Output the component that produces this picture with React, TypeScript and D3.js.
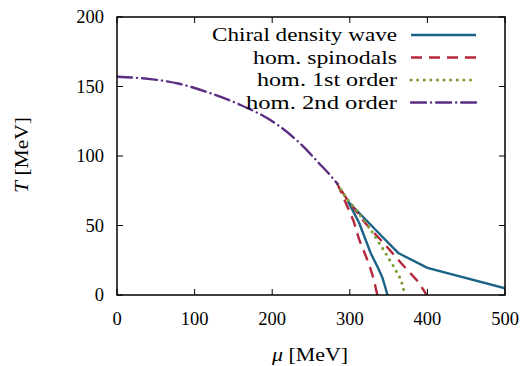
import React from "react";
import * as d3 from "d3";

// ---- data (μ [MeV], T [MeV]) ----
const secondOrderMu = [0, 40, 80, 116, 156, 208, 236, 260, 275, 284];
const secondOrderT = [157, 155.5, 152, 146, 137.5, 122, 109, 95, 86, 80];

const firstOrderMu = [284, 295, 310, 325, 344, 357, 366, 371];
const firstOrderT = [80, 70, 60, 48.6, 32, 20, 11, 0];

// spinodals: left branch from T=0 up to the critical point, then right branch down
const spinodalMu = [335.5, 331, 326, 320, 312, 305, 295, 284, 295, 318, 329, 345, 366, 389, 399];
const spinodalT = [0, 11, 20, 29, 40, 53, 66, 80, 70, 53, 46, 36.6, 23, 9, 0];

// chiral density wave: lower branch (T=0 up to Lifshitz point), then upper branch
const cdwMu = [348.5, 346, 342, 336, 327, 312, 298, 320, 340, 363, 400, 500];
const cdwT = [0, 5, 12.5, 20, 30, 52, 67, 54.5, 43, 30, 19.5, 4.8];

const xTicks = [0, 100, 200, 300, 400, 500];
const yTicks = [0, 50, 100, 150, 200];

const legendLabels = ["Chiral density wave", "hom. spinodals", "hom. 1st order", "hom. 2nd order"];
const legendWidths = [185, 144, 140, 151];

const W = 526;
const H = 366;
const left = 117, right = 505, top = 17, bottom = 295;

const COLORS = {
  cdw: "#1b6386",
  spin: "#b3263b",
  first: "#7a9f35",
  second: "#5a2d82",
};

const zip = (a: number[], b: number[]) => a.map((v, i) => [v, b[i]] as [number, number]);

export default function App() {
  const x = d3.scaleLinear().domain([0, 500]).range([left, right]);
  const y = d3.scaleLinear().domain([0, 200]).range([bottom, top]);
  const line = d3.line<[number, number]>().x((d) => x(d[0])).y((d) => y(d[1]));
  const smooth = d3
    .line<[number, number]>()
    .x((d) => x(d[0]))
    .y((d) => y(d[1]))
    .curve(d3.curveMonotoneX);

  const font = "'Liberation Serif', 'Times New Roman', serif";
  const fs = 18.5;
  const lw = 2.4;

  const series = [
    { d: line(zip(cdwMu, cdwT)), color: COLORS.cdw, dash: undefined as string | undefined, cap: "butt" },
    { d: line(zip(spinodalMu, spinodalT)), color: COLORS.spin, dash: "11,7", cap: "butt" },
    { d: line(zip(firstOrderMu, firstOrderT)), color: COLORS.first, dash: "0.1,6.5", cap: "round" },
    { d: smooth(zip(secondOrderMu, secondOrderT)), color: COLORS.second, dash: "15,5,0.1,5", cap: "round" },
  ];

  const legendBaselines = [41, 63.5, 86, 108.5];
  const legendTextRight = 397;
  const sampleX0 = 411, sampleX1 = 476;

  return (
    <svg
      width={W}
      height={H}
      style={{ position: "absolute", left: 0, top: 0, background: "#fff" }}
      fontFamily={font}
    >
      <rect x={0} y={0} width={W} height={H} fill="#fff" />
      <defs>
        <clipPath id="plotclip">
          <rect x={left} y={top} width={right - left} height={bottom - top} />
        </clipPath>
      </defs>

      {/* ticks, mirrored */}
      {xTicks.map((t) => (
        <g key={"xt" + t}>
          <line x1={x(t)} x2={x(t)} y1={bottom} y2={bottom - 6} stroke="#000" strokeWidth={1} />
          <line x1={x(t)} x2={x(t)} y1={top} y2={top + 6} stroke="#000" strokeWidth={1} />
          <text x={x(t)} y={325} textAnchor="middle" fontSize={fs} fill="#000">
            {t}
          </text>
        </g>
      ))}
      {yTicks.map((t) => (
        <g key={"yt" + t}>
          <line x1={left} x2={left + 6} y1={y(t)} y2={y(t)} stroke="#000" strokeWidth={1} />
          <line x1={right} x2={right - 6} y1={y(t)} y2={y(t)} stroke="#000" strokeWidth={1} />
          <text x={104} y={y(t) + 6} textAnchor="end" fontSize={fs} fill="#000">
            {t}
          </text>
        </g>
      ))}

      {/* data lines */}
      <g clipPath="url(#plotclip)">
        {series.map((s, i) => (
          <path
            key={i}
            d={s.d || ""}
            fill="none"
            stroke={s.color}
            strokeWidth={s.cap === "round" && i === 2 ? 3 : lw}
            strokeDasharray={s.dash}
            strokeLinecap={s.cap as any}
            strokeLinejoin="round"
          />
        ))}
      </g>

      {/* legend */}
      {legendLabels.map((lab, i) => {
        const s = series[i];
        const yy = legendBaselines[i] - 6;
        return (
          <g key={lab}>
            <text
              x={legendTextRight}
              y={legendBaselines[i]}
              textAnchor="end"
              fontSize={fs}
              fill="#000"
              textLength={legendWidths[i]}
              lengthAdjust="spacingAndGlyphs"
            >
              {lab}
            </text>
            <line
              x1={sampleX0}
              x2={sampleX1}
              y1={yy}
              y2={yy}
              stroke={s.color}
              strokeWidth={i === 2 ? 3 : lw}
              strokeDasharray={s.dash}
              strokeLinecap={s.cap as any}
            />
          </g>
        );
      })}

      {/* frame */}
      <rect x={left} y={top} width={right - left} height={bottom - top} fill="none" stroke="#000" strokeWidth={1.5} />

      {/* axis titles */}
      <text x={310} y={361} textAnchor="middle" fontSize={fs} fill="#000" textLength={76} lengthAdjust="spacingAndGlyphs">
        <tspan fontStyle="italic">μ</tspan> [MeV]
      </text>
      <text
        transform={`translate(28,155) rotate(-90)`}
        textAnchor="middle"
        fontSize={fs}
        fill="#000"
        textLength={76}
        lengthAdjust="spacingAndGlyphs"
      >
        <tspan fontStyle="italic">T</tspan> [MeV]
      </text>
    </svg>
  );
}
